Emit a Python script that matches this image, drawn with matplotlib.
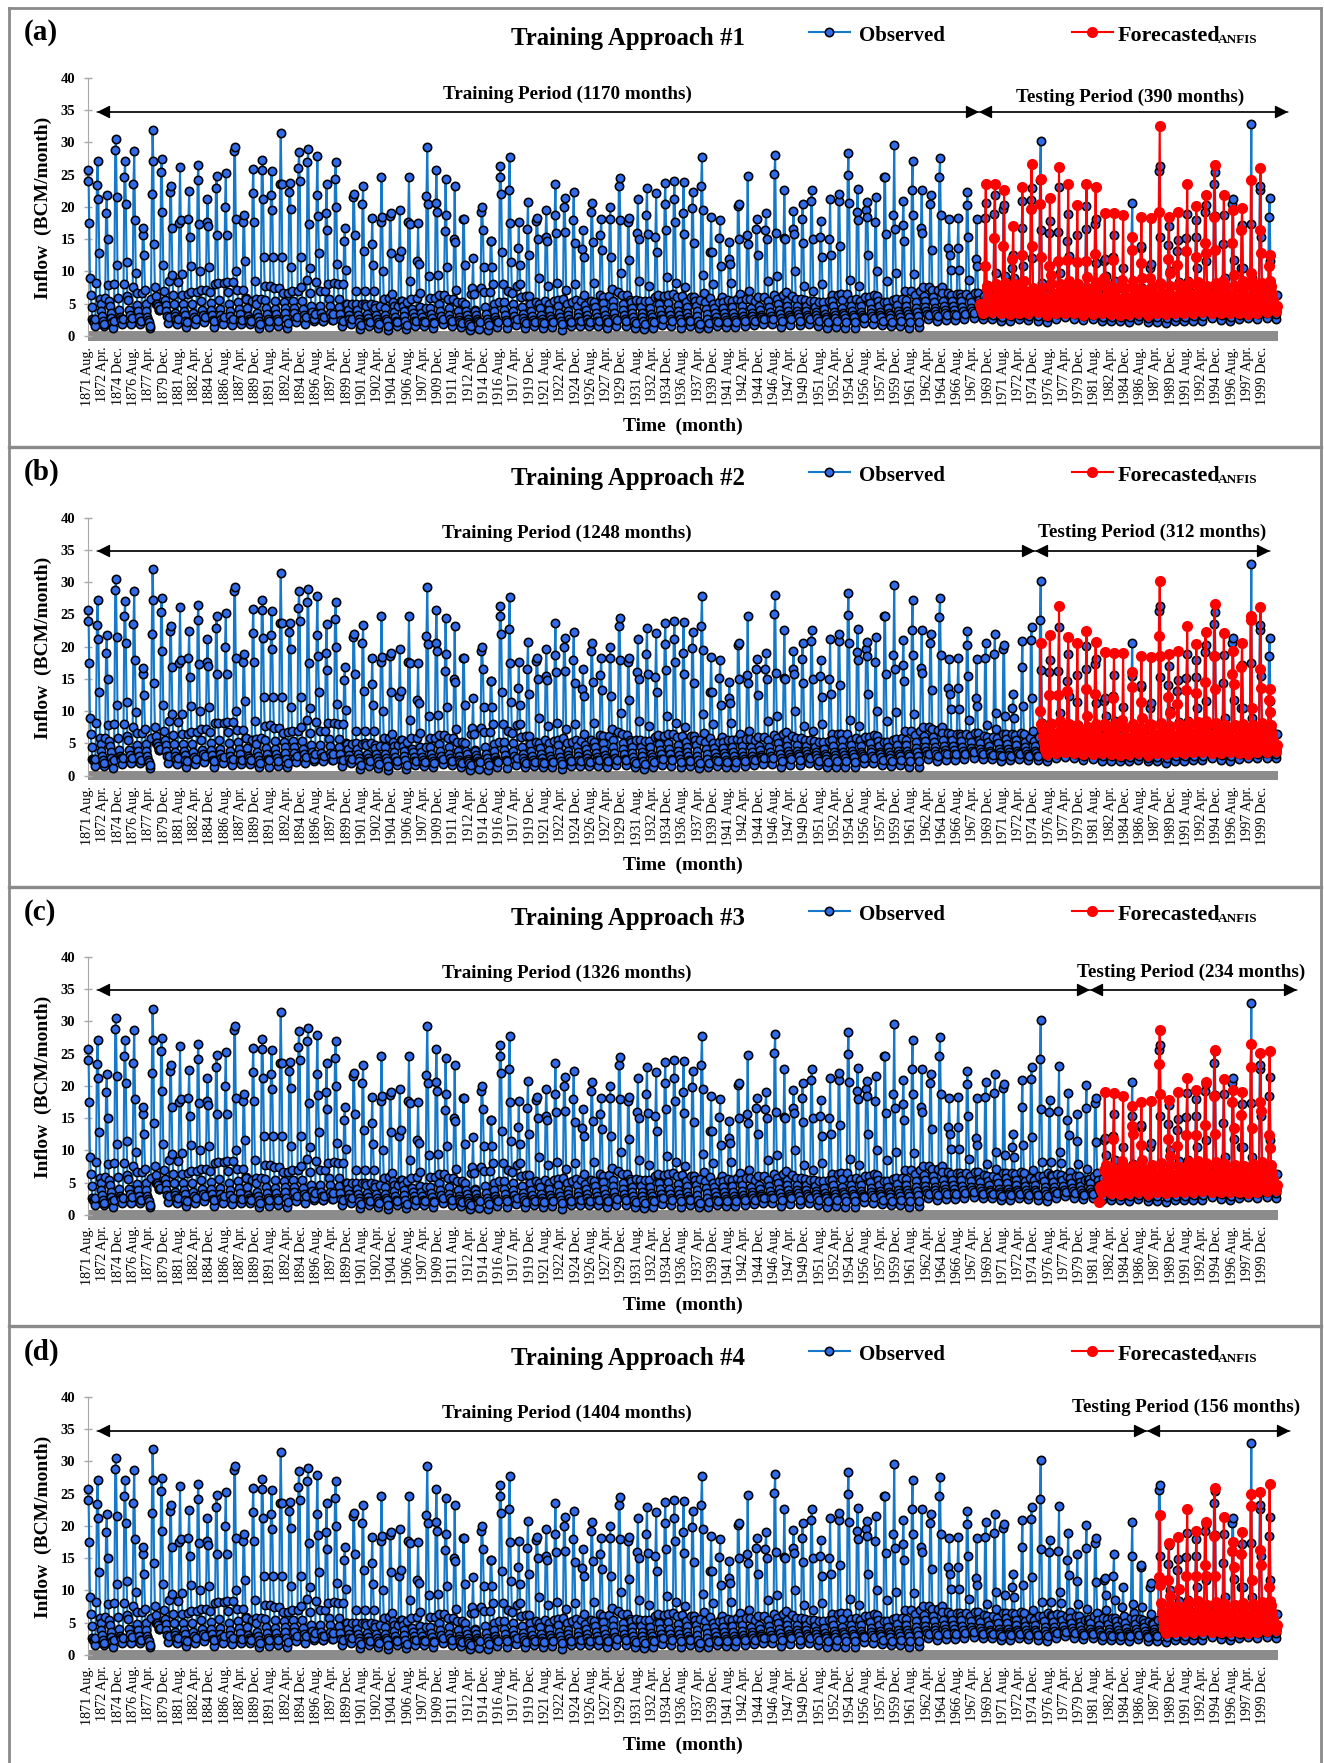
#!/usr/bin/env python3
"""Observed vs forecasted monthly inflow, four ANFIS training approaches"""

import matplotlib
matplotlib.use('Agg')
import matplotlib.pyplot as plt
import numpy as np

SERIF = 'Liberation Serif'
plt.rcParams['font.family'] = SERIF

WIDTH, HEIGHT = 1324, 1763

# Observed inflow (BCM/month), one entry per hydrological year from Aug 1871
obs_aug = [24,23.4,19,28.8,24.7,23.5,15.7,22,25.4,22.4,
           17.5,18.2,24.2,17.7,22.9,20,28.7,17.7,22.2,25.7,
           21.8,23.6,22.3,26,27,21.8,19,24.3,14.8,21.5,
           20.5,14.2,17.6,18.6,12.3,17.6,11.7,21.7,20.6,16.3,
           15,18.2,7.4,19.3,14.7,24.7,22.7,13.6,16.6,17.8,
           15.4,18.7,20,18,13.5,19.3,15.6,18.2,23.2,17.6,
           16,18.8,15.3,20.4,21.2,19,19.8,23.2,13,15.2,
           12,20.2,15.6,16.6,16.5,25.1,15.2,16.6,18.1,20.9,
           15.4,15,20.9,24.9,19.2,19.6,17.7,24.7,18.7,17.2,
           22.6,16.7,20.5,24.6,13.6,13.6,20.3,12,18.3,18.9,
           19.7,10.5,16.8,21.1,24.2,16,16.2,14.7,11.5,16.6,
           17.3,11.6,12.3,7.4,15.4,13.7,10.5,25.6,14.1,13.1,
           15.2,15.3,19.2,23.5,14.3,20.5,10.5,17.4,22.6,18.5]
obs_sep = [25.7,27.2,21.8,30.5,27.1,28.7,16.7,32,27.5,23.2,
           26.2,22.5,26.5,21.2,24.8,25.2,29.3,18.8,25.9,27.3,
           25.6,31.5,23.7,28.6,29,27.9,23.5,27,16.8,22,
           23.3,18.3,24.7,19,19.6,24.7,17.5,29.3,25.7,24.4,
           23.2,18.2,12.1,20,14.7,26.3,27.7,17.6,20.7,18.3,
           19.6,23.6,21.4,22.3,16.5,20.6,18.2,20,24.5,18.3,
           21.2,22.9,22.1,23.7,24,23.8,22.3,27.8,18.4,18,
           14.5,20.5,24.8,18.1,19,28,22.6,19.4,20.5,22.6,
           17.9,21.2,22,28.4,22.8,20.8,21.5,24.7,29.6,21,
           27.2,22.6,21.9,27.6,18.1,18.3,22.4,18.1,20.6,21.9,
           20.3,12.6,20.9,23,30.2,17.9,23.1,18.9,15.6,20.1,
           18.1,12,15.6,10.6,20.6,14,11.2,26.3,17,14.9,
           18.9,18,20.3,25.4,18.7,21.3,17.2,32.8,23.3,21.4]
obs_oct = [17.5,21.2,15,21.5,20.5,18,12.5,27.2,19.3,16.8,
           18,15.3,17.3,17,15.7,15.7,18.2,11.6,17.6,21.3,
           19.6,23.6,19.7,24,17.4,18.6,16.4,20,10.2,15.7,
           13.2,11,18.4,12.9,13.2,17.4,11.2,20.4,19.3,18.8,
           14.5,11,6.5,16.5,10.7,22,17.5,11,12.6,15,
           14.8,16,16.2,14.4,12.3,14.5,13.3,12.3,18,11.8,
           15,15.8,13,16.4,17.7,15.8,14.4,19.5,13,10.9,
           11.2,15,14.3,12.5,15,15.9,15,15.8,14.4,15,
           12.2,12.6,14,20.6,18,18.5,10,15.8,16.6,14.7,
           18.7,15.9,13.3,18.7,12.6,10.3,15.4,10.8,7.9,9.7,
           9.3,9,10.8,12.1,16.4,8.2,9.7,12.4,7.9,7.2,
           11.3,9.3,8.5,6.1,7.9,7.4,6.4,15.3,10,8.4,
           8.5,10.5,11.6,18.6,9,11.8,10.5,9,15.4,11.6]
obs_nov = [9,12.9,7.9,11,11.4,9.8,7.2,14.3,11,9.5,
           9.6,10.8,10,10.7,8.2,8.3,10,5.9,8.5,12.2,
           12.2,12.2,10.7,12.2,10.5,12.9,8.1,11.1,5,7,
           7,7,10,6.5,5.5,8.6,6.6,9.3,9.4,10.7,
           7.2,5,4,10.7,8,13,11.4,8,6.2,9,
           7.7,8.2,7.2,8,6.4,8.2,6.1,7.3,9.7,5.6,
           8.5,7.7,6,9.2,8.2,7.6,6.1,9.5,8,6,
           8.2,6.5,7,6,8.5,9.3,6.8,10,7.7,6.9,
           8,6.4,6.5,8.7,7.7,12.6,6.2,8.5,9.8,6.9,
           9.6,7.6,7.2,7.6,10.3,6.5,8.7,6.6,6,7.2,
           6.5,6.3,6.5,7,8.2,6.2,8,6.6,6,5.5,
           6.5,7,5.8,5,6.5,5.5,5,8,6.5,6,
           7,6.5,7.5,7,6.8,7,6.5,6.2,7.5,7.4]
obs_dec = [6.4,5.8,5.4,5.9,6.2,6.6,4.9,7.6,7,6.3,
           6.4,6.8,7.2,6.8,5.6,6.8,7.1,5.8,5.7,7.7,
           7.4,6.6,6.9,7.6,6.6,6.9,5.7,8,4.9,5,
           5,4.8,5.8,5.3,5.5,5.8,4.5,5.9,6.3,5.8,
           5.3,3.9,3.9,6.8,4.9,8,6.6,6,4.9,5,
           5,5.6,5,5.6,4.8,5.2,5.1,5.5,6.4,5.3,
           5.5,5.4,6.3,6.4,6,5.3,5.5,6.6,5,5.2,
           5.5,5.4,5.7,4.6,5.5,5.8,5.5,5.8,5.6,5.4,
           5.2,5.5,5.6,5.6,5.5,6,5.4,5.3,5.7,5.6,
           6.3,6.2,6,6.6,6.4,6.1,6.1,5.6,5.2,5.8,
           5.7,5.5,5.2,5.4,6,6,6.2,5.7,5.1,5.6,
           5.4,5.6,5.2,4.9,5.6,5,4.8,5.6,5.7,5.4,
           6,5.6,6.1,6.3,5.8,6.2,5.5,5.8,6.1,6]
obs_jan = [4.5,4.9,4.6,4,5.6,4.8,3.8,6.2,5.6,4.9,
           4.9,4.9,5.5,5.1,4.2,5,5.3,4.3,4.9,5.6,
           5.4,5.2,5.4,5.4,4.7,4.7,4.6,5.7,4.1,4.1,
           4.7,4.3,4.4,4.6,4.6,4.2,3.6,4.4,4.9,4.4,
           3.9,3.3,3.2,4.5,3.8,5.2,5,4.5,3.9,4.3,
           4,4.7,3.8,4.6,4.1,4.5,4,4.5,5,4.4,
           4.5,4.4,4.9,5.1,4.8,4.5,4.7,5.2,4.3,4.3,
           4.5,4.6,4.4,4,4.5,5,4.6,4.7,4.6,4.5,
           4.2,4.6,4.4,4.7,4.6,5.1,4.6,4.4,4.8,4.7,
           5.2,5.4,5.2,5.5,5.5,5.4,5.2,5.1,4.6,5,
           4.9,4.7,4.5,4.6,5.2,5.1,5.4,5,4.5,4.9,
           4.6,4.8,4.5,4.2,4.8,4.4,4.1,5,4.9,4.7,
           5.1,4.8,5.3,5.5,5,5.3,4.9,5.1,5.3,5.1]
obs_feb = [2.6,3.9,3.6,3,4,3.9,3,5,4.8,3.6,
           3.9,3.6,4,4,3.3,3.9,4.2,3.1,3.6,4.3,
           4.2,4.4,4.4,4.2,3.7,3.5,3.5,4.5,3.2,3.3,
           3.4,3.3,3.3,3.7,3.8,3.6,2.9,3.4,3.8,3.3,
           3,2.6,2.7,3.4,2.9,4,3.9,3.4,3.1,3.3,
           3.1,3.6,3.2,3.6,3.3,3.5,3.2,3.5,4.1,3.5,
           3.6,3.4,4,4.1,3.8,3.6,3.8,4.2,3.5,3.5,
           3.6,3.7,3.6,3.2,3.7,4.1,3.8,3.8,3.8,3.7,
           3.4,3.7,3.6,3.8,3.7,4.2,3.7,3.6,3.9,3.8,
           4.3,4.5,4.4,4.6,4.6,4.5,4.3,4.2,3.9,4.1,
           4.1,3.9,3.8,3.9,4.3,4.3,4.5,4.2,3.8,4.1,
           3.9,4,3.8,3.5,4,3.7,3.5,4.2,4.1,4,
           4.3,4,4.4,4.6,4.2,4.4,4.1,4.3,4.4,4.3]
obs_mar = [2.4,3.1,2.8,2.7,3.2,3,2.5,5,3.8,3.1,
           3.2,2.9,3.3,3.2,2.7,3.1,3.4,2.7,3,3.4,
           3.4,3.5,3.5,3.3,3,2.9,3,3.4,2.6,2.7,
           2.8,2.7,2.7,2.9,3.1,2.9,2.4,2.8,3.1,2.7,
           2.5,2.2,2.3,2.7,2.5,3.2,3.1,2.8,2.5,2.7,
           2.6,2.9,2.7,3,2.7,2.9,2.7,2.8,3.3,2.9,
           3,2.9,3.3,3.3,3.2,3,3.1,3.4,2.9,3,
           3,3.1,3.1,2.9,3.1,3.4,3.3,3.4,3.3,3.2,
           3,3.2,3.2,3.3,3.3,3.6,3.3,3.2,3.4,3.4,
           3.7,3.9,3.9,4,4,3.9,3.8,3.7,3.5,3.6,
           3.6,3.5,3.4,3.5,3.7,3.7,3.9,3.7,3.4,3.6,
           3.5,3.5,3.4,3.2,3.5,3.3,3.2,3.7,3.6,3.5,
           3.7,3.5,3.8,4,3.7,3.8,3.6,3.7,3.8,3.7]
obs_apr = [2.2,2.4,2.1,2.5,2.4,2.3,2.1,4.6,3.1,2.6,
           2.4,2.3,2.5,2.5,2.2,2.4,2.5,2.3,2.4,2.6,
           2.7,2.6,2.7,2.6,2.3,2.4,2.5,2.5,2.1,2.2,
           2.2,2.2,2.3,2.3,2.4,2.3,2,2.2,2.4,2.2,
           2.1,1.9,1.9,2.1,2.2,2.5,2.5,2.3,2,2.1,
           2.1,2.3,2.2,2.4,2.2,2.4,2.2,2.2,2.6,2.3,
           2.3,2.4,2.6,2.6,2.6,2.5,2.4,2.6,2.4,2.5,
           2.5,2.6,2.6,2.6,2.6,2.8,2.9,3,2.9,2.8,
           2.6,2.8,2.8,2.9,3,3.1,2.9,2.8,3,3,
           3.1,3.4,3.4,3.5,3.4,3.3,3.3,3.2,3.1,3.2,
           3.2,3.1,3,3.1,3.2,3.2,3.4,3.3,3.1,3.2,
           3.1,3.1,3,2.9,3.1,2.9,2.9,3.2,3.1,3.1,
           3.2,3.1,3.3,3.4,3.2,3.3,3.2,3.2,3.3,3.2]
obs_may = [1.5,1.5,1.2,1.8,1.9,1.9,1.2,4,2,1.8,
           1.4,1.8,2.1,1.4,1.9,1.7,1.8,1.8,1.3,1.4,
           1.5,1.3,2.1,1.9,2.6,2.3,2.5,1.5,1.9,1.1,
           1.5,1.2,0.9,1.6,1.1,1.6,1.5,1.3,1.8,1.6,
           1.4,0.9,1.1,0.9,1.4,1.2,1.7,1.3,1.5,1.3,
           1.4,1,1.5,1.5,1.5,1.5,1.3,1.6,1.6,1.3,
           1.1,1.3,1.7,1.5,1.3,1.5,1.2,1.3,1.5,1.4,
           1.4,1.5,1.7,1.8,1.8,1.4,1.7,1.7,1.9,1.6,
           1.3,1.4,1.3,1.3,2,1.9,1.7,1.5,1.6,1.3,
           1.4,2.6,2.3,2.5,2.5,2.6,2.8,2.6,2.6,2.3,
           2.4,2.6,2.5,2.4,2.2,2.7,2.9,2.7,2.5,2.6,
           2.3,2.3,2.3,2.2,2.5,2.2,2.2,2,2.3,2.3,
           2.4,2.4,2.8,2.5,2.3,2.6,2.8,2.7,2.8,2.7]
obs_jun = [2.6,1.9,2.4,2.7,2.8,2.4,1.6,4,3,2.7,
           2.2,2.6,3,2.3,2.9,2.6,2.5,2.4,1.9,2.4,
           2.3,2,3,2.9,3.4,3,3.4,2.4,2.6,1.7,
           2.2,1.8,1.5,2.2,1.7,2.3,2.1,2,2.6,2.3,
           2,1.6,2.1,1.7,2.1,2.2,2.7,2,2.1,2,
           2.1,1.8,2.2,2.3,2.1,2.4,2.2,2.5,2.4,2,
           1.8,2.1,2.6,2.4,2.1,2.3,1.9,2,2.2,2.1,
           2.1,2.3,2.4,2.7,2.7,2.3,2.6,2.4,2.7,2.3,
           2.1,2.3,2.2,2.1,2.8,2.8,2.4,2.2,2.4,2.2,
           2.2,3.3,3.1,3.3,3.3,3.4,3.6,3.3,3.2,3,
           3.1,3.3,3.1,3.1,2.9,3.4,3.6,3.4,3.1,3.3,
           3,3,2.9,2.9,3.1,2.8,2.9,2.8,3,3,
           3.1,3.1,3.5,3.2,3,3.3,3.5,3.4,3.5,3.4]
obs_jul = [8.2,5.9,8,8,7.6,6.6,5.8,4.2,8.5,8.4,
           6.5,6.8,7.2,8.1,8.2,8.3,7.1,5.5,5.8,7.8,
           7.4,6.7,6.9,8.7,8.3,6.9,8.2,8,4.9,4.9,
           5,4.6,5.9,4.7,5.2,5.9,4.4,5.9,6.3,5.8,
           5.2,6.5,7.4,6.8,5.2,7,7.8,6.2,5.2,5.5,
           5.4,5.8,5.3,5.4,5.5,6.3,6.2,6.8,6.3,5.6,
           5.4,6,6.2,6.5,6.2,6.1,5.6,5.9,5.3,5.6,
           5.7,5.7,5.5,6,6.3,6.4,6.2,5.8,5.5,5.2,
           5.4,6.4,6.5,5.8,6,6.3,5.2,5.6,5.8,6.9,
           6.9,7.6,7.1,6.6,6.5,6.5,6.6,6.2,6,6.5,
           6.5,6.6,5.8,6,6.5,6.4,6.1,6,5.5,6,
           5.8,5.7,5.5,5.7,5.6,5.3,5.5,6,5.7,5.6,
           6,6.2,6.4,6.2,6,6.1,6,6.2,6.1,6.4]

# Forecast base flow, last 33 years, common to the four panels
fc_nov = [7.6,7.3,7.8,7.2,7.9,8.6,7.5,7.4,8,7.3,7.6,7.2,7.5,7.4,7.8,7.1,7.4,7.6,7.2,7.8,
          8.1,7.7,7.5,8.2,8.4,7.8,8.2,7.9,7.8,7.6,7.9,8.2,7.8]
fc_dec = [6.4,6.2,6.5,6,6.6,7,6.4,6.1,6.6,6.2,6.4,6,6.3,6.2,6.4,6,6.2,6.3,5.9,6.5,
          6.7,6.4,6.2,6.7,6.9,6.5,6.8,6.6,6.5,6.4,6.6,6.8,6.5]
fc_jan = [5.4,5.5,5.2,5.3,5.6,5.7,5.4,5.2,5.5,5.4,5.6,5.1,5.3,5.2,5.4,5,5.2,5.4,5,5.5,
          5.6,5.4,5.3,5.5,5.7,5.6,5.8,5.4,5.5,5.4,5.6,5.7,5.6]
fc_feb = [4.9,5,4.7,4.8,5,5,4.9,4.7,4.9,4.9,5,4.6,4.7,4.7,4.8,4.5,4.7,4.8,4.5,4.9,
          5,4.9,4.8,4.9,5.1,4.9,5.1,4.9,5,4.8,5,5.1,5.1]
fc_mar = [4.4,4.5,4.2,4.3,4.5,4.4,4.6,4.2,4.3,4.4,4.5,4.1,4.2,4.3,4.2,4,4.2,4.3,4,4.4,
          4.3,4.5,4.3,4.4,4.6,4.3,4.5,4.4,4.5,4.3,4.4,4.6,4.7]
fc_apr = [4,4.1,3.8,3.8,4,3.9,4.1,3.7,3.9,4,4,3.7,3.8,3.9,3.8,3.6,3.8,3.9,3.6,3.9,
          3.8,4,3.9,4,4.1,3.9,4,4,4,3.8,4,4.1,4.2]
fc_may = [3.6,3.7,3.5,3.4,3.6,3.5,3.7,3.3,3.5,3.6,3.5,3.3,3.4,3.5,3.4,3.2,3.4,3.5,3.2,3.5,
          3.4,3.6,3.5,3.6,3.7,3.5,3.5,3.6,3.5,3.4,3.6,3.7,3.8]
fc_jun = [4,4,3.8,3.9,3.9,4,4.1,3.7,3.9,4,3.9,3.7,3.8,3.8,3.9,3.6,3.8,3.9,3.7,3.9,
          4,3.9,3.9,4,4.1,3.9,4.1,3.9,4,3.8,4,4.1,4]
fc_jul = [5,4.8,4.6,5.1,4.7,5,5.2,4.6,4.9,5,4.7,4.8,4.9,4.7,5,4.6,4.8,4.9,4.7,5,
          5.1,4.8,4.9,5,5.2,5,5.3,4.9,5,4.8,5,5.2,4.7]

# Forecast flood months per panel, ending with the last year of the record
fc_a_aug = [10.8,15.2,13.9,12,12.5,19.7,20.5,10.8,11.6,11.8,11.5,11.6,12.7,9,11.8,8.7,
            13.4,11.3,9,19.2,12,11,13.1,12.3,14.4,18.5,8.5,14.4,16.5,9.7,16.5,10.8]
fc_a_sep = [23.5,23.6,22.6,17,23.1,26.7,24.3,21.4,26.2,23.6,20.3,23.6,23.1,19,19,18.7,
            15.3,18.5,18.3,32.6,18.5,19.2,23.6,20.1,21.8,26.5,21.9,19.5,19.9,24.2,26,12.6]
fc_a_oct = [7.8,8,8.2,8,8.5,13.9,12.3,9.5,8,8.5,8,9.2,8.3,8,7.5,7.5,
            8.5,9,7.5,8.2,9.7,8,8,8,12.9,13.4,7.7,9.5,8.5,8.5,12.9,8.5]
fc_b_aug = [10.1,12.5,12.5,13.1,7.9,13.5,12.7,8,12,8.7,13.8,11.5,8,21.6,12.2,11.1,
            13.3,12.8,14.5,18.5,7.6,15.8,16.9,24.2,16.6,11.7]
fc_b_sep = [20.6,21.8,26.3,21.5,20.6,22.4,20.7,19.2,19,19,16,18.6,18.4,30.2,18.8,19.3,
            23.2,20.4,22.3,26.6,22.1,19.4,20.5,24.7,26.2,13.5]
fc_b_oct = [8,8,8.5,8,7.5,9.3,8,7.5,8,7.5,8,9,7.5,18.5,9.7,8,
            8,8,8.5,13.5,7.5,14.2,8,10.5,13.6,9.9]
fc_c_aug = [7,11.8,8.4,13.8,10.8,7,23.4,11.8,10.7,12.4,12.4,13.9,18.5,7.8,17.5,15.5,22.9,17.5,12.4]
fc_c_sep = [19,18.9,18.4,16.9,17.5,17.6,28.7,17.8,19.1,21.2,19.4,20.6,25.6,21.1,19.4,19,26.5,25.1,25.4]
fc_c_oct = [6.8,7,7,12.6,8.5,6.8,18.7,9.2,7.5,7.5,7.5,8,12.5,7,13.5,7.5,13.5,16.2,10.4]
fc_c_first = [2.0]
fc_d_aug = [12.1,11.6,7.5,12.3,12.3,13.9,18.5,7.7,16.1,15.6,23.1,16.3,10.5]
fc_d_sep = [21.7,17.4,18.3,22.7,19.3,20.6,25.9,21.4,17.5,19,25,25.2,26.5]
fc_d_oct = [10.8,9.2,10.2,8,8,12.3,12.3,7,13.6,8,11.6,14,8.4]

panel_letters = ['(a)', '(b)', '(c)', '(d)']
train_months = [1170, 1248, 1326, 1404]
test_months = [390, 312, 234, 156]
y_ticks = [0, 5, 10, 15, 20, 25, 30, 35, 40]
x_tick_labels = [
    '1871 Aug.', '1872 Apr.', '1874 Dec.', '1876 Aug.', '1877 Apr.', '1879 Dec.',
    '1881 Aug.', '1882 Apr.', '1884 Dec.', '1886 Aug.', '1887 Apr.', '1889 Dec.',
    '1891 Aug.', '1892 Apr.', '1894 Dec.', '1896 Aug.', '1897 Apr.', '1899 Dec.',
    '1901 Aug.', '1902 Apr.', '1904 Dec.', '1906 Aug.', '1907 Apr.', '1909 Dec.',
    '1911 Aug.', '1912 Apr.', '1914 Dec.', '1916 Aug.', '1917 Apr.', '1919 Dec.',
    '1921 Aug.', '1922 Apr.', '1924 Dec.', '1926 Aug.', '1927 Apr.', '1929 Dec.',
    '1931 Aug.', '1932 Apr.', '1934 Dec.', '1936 Aug.', '1937 Apr.', '1939 Dec.',
    '1941 Aug.', '1942 Apr.', '1944 Dec.', '1946 Aug.', '1947 Apr.', '1949 Dec.',
    '1951 Aug.', '1952 Apr.', '1954 Dec.', '1956 Aug.', '1957 Apr.', '1959 Dec.',
    '1961 Aug.', '1962 Apr.', '1964 Dec.', '1966 Aug.', '1967 Apr.', '1969 Dec.',
    '1971 Aug.', '1972 Apr.', '1974 Dec.', '1976 Aug.', '1977 Apr.', '1979 Dec.',
    '1981 Aug.', '1982 Apr.', '1984 Dec.', '1986 Aug.', '1987 Apr.', '1989 Dec.',
    '1991 Aug.', '1992 Apr.', '1994 Dec.', '1996 Aug.', '1997 Apr.', '1999 Dec.',
]

# Layout in reference pixels
PANEL_SHIFT = [0, 439.7, 879, 1319]
AXIS_LEFT, AXIS_RIGHT = 87.7, 1278
AXIS_TOP, AXIS_BOTTOM = 78, 340.5
# x of the training/testing boundary and right tip, y of the arrow, testing label centre x, y
ARROWS = [(979, 1288, 112, 1130, 97), (1035, 1270, 551, 1152, 532),
          (1090, 1297, 990, 1191, 972), (1147, 1290, 1431, 1186, 1407)]

BLUE_LINE = '#1578C8'
BLUE_FILL = '#2F6BEA'
RED = '#FF0000'
GREY = '#8C8C8C'


def series_from_columns(columns, offsets, n_years):
    """Turn per-month columns into month positions and values, in time order"""
    first = 130 - n_years
    xs, ys = [], []
    for i in range(n_years):
        for col, off in zip(columns, offsets):
            xs.append((first + i) * 12 + off)
            ys.append(col[i])
    return np.array(xs), np.array(ys)


def forecast_series(aug, sep, oct_, start, first_values=()):
    """Forecast line of one panel from its flood months and the shared base flow"""
    n = len(sep)
    columns = [aug, sep, oct_, fc_nov[-n:], fc_dec[-n:], fc_jan[-n:], fc_feb[-n:],
               fc_mar[-n:], fc_apr[-n:], fc_may[-n:], fc_jun[-n:], fc_jul[-n:]]
    xs, ys = series_from_columns(columns, list(range(12)), n)
    # base flow before the first full flood season belongs to the panel too
    x_lead = (130 - n - 1) * 12 + np.array([6, 7, 8, 9, 10, 11])
    y_lead = [col[-n - 1] for col in (fc_feb, fc_mar, fc_apr, fc_may, fc_jun, fc_jul)]
    xs = np.concatenate([x_lead, xs])
    ys = np.concatenate([y_lead, ys])
    keep = xs >= start
    xs, ys = xs[keep], ys[keep]
    if len(first_values):
        ys[:len(first_values)] = first_values
    return xs, ys


obs_x, obs_y = series_from_columns(
    [obs_aug, obs_sep, obs_oct, obs_nov, obs_dec, obs_jan,
     obs_feb, obs_mar, obs_apr, obs_may, obs_jun, obs_jul],
    list(range(12)), 130)

forecasts = [forecast_series(fc_a_aug, fc_a_sep, fc_a_oct, train_months[0]),
             forecast_series(fc_b_aug, fc_b_sep, fc_b_oct, train_months[1]),
             forecast_series(fc_c_aug, fc_c_sep, fc_c_oct, train_months[2], fc_c_first),
             forecast_series(fc_d_aug, fc_d_sep, fc_d_oct, train_months[3])]

BLUE_STYLE = dict(color=BLUE_LINE, lw=1.5, marker='o', ms=6, mfc=BLUE_FILL, mec='black', mew=1.15)
RED_STYLE = dict(color=RED, lw=1.5, marker='o', ms=8, mfc=RED, mec=RED, mew=0)

fig = plt.figure(figsize=(WIDTH / 100, HEIGHT / 100), dpi=100, facecolor='white')

for i, shift in enumerate(PANEL_SHIFT):
    top = AXIS_TOP + shift
    bottom = AXIS_BOTTOM + shift
    ax = fig.add_axes([AXIS_LEFT / WIDTH, 1 - bottom / HEIGHT,
                       (AXIS_RIGHT - AXIS_LEFT) / WIDTH, (bottom - top) / HEIGHT])
    ax.set_xlim(0, 1560)
    ax.set_ylim(-0.7, 40)
    ax.patch.set_alpha(0)
    ax.axhspan(-0.7, 0.7, color=GREY, lw=0, zorder=1)
    ax.plot(obs_x, obs_y, clip_on=False, zorder=3, **BLUE_STYLE)
    ax.plot(forecasts[i][0], forecasts[i][1], clip_on=False, zorder=4, **RED_STYLE)

    for name in ['top', 'right', 'bottom']:
        ax.spines[name].set_visible(False)
    ax.spines['left'].set_color('#A8A8A8')
    ax.spines['left'].set_bounds(0, 40)
    ax.set_yticks(y_ticks)
    ax.set_yticklabels([str(t) for t in y_ticks], fontsize=10.5, fontweight='bold')
    ax.tick_params(axis='y', direction='inout', length=6, width=1, color='#A8A8A8', pad=6)
    ax.set_xticks(np.arange(len(x_tick_labels)) * 20)
    ax.set_xticklabels(x_tick_labels, rotation=90, fontsize=10.2)
    ax.tick_params(axis='x', length=0, pad=4.5)

# Frames, titles, legends and period arrows sit on one page-sized overlay
page = fig.add_axes([0, 0, 1, 1], zorder=10)
page.set_xlim(0, WIDTH)
page.set_ylim(HEIGHT, 0)
page.axis('off')

page.plot([9, 9], [8, HEIGHT], color='#8A8A8A', lw=2)
page.plot([1321, 1321], [8, HEIGHT], color='#8A8A8A', lw=2)
page.plot([9, 1321], [8, 8], color='#8A8A8A', lw=2)
for y in [447, 887, 1326]:
    page.plot([9, 1321], [y, y], color='#8A8A8A', lw=2.4)

for i, shift in enumerate(PANEL_SHIFT):
    page.text(24, 33 + shift, panel_letters[i], fontsize=21, fontweight='bold', va='center')
    page.text(628, 39 + shift, f'Training Approach #{i + 1}', fontsize=17.9,
              fontweight='bold', ha='center', va='center')
    page.text(43, 208 + shift, 'Inflow  (BCM/month)', fontsize=14, fontweight='bold',
              rotation=90, ha='center', va='center')
    page.text(683, 426 + shift, 'Time  (month)', fontsize=14, fontweight='bold',
              ha='center', va='center')

    # legend
    page.plot([809, 850], [32 + shift, 32 + shift], color=BLUE_LINE, lw=1.5)
    page.plot([829], [32 + shift], **BLUE_STYLE)
    page.text(859, 36 + shift, 'Observed', fontsize=15, fontweight='bold', va='center')
    page.plot([1072, 1113], [32 + shift, 32 + shift], color=RED, lw=1.5)
    page.plot([1092], [32 + shift], **RED_STYLE)
    page.text(1118, 36 + shift, 'Forecasted', fontsize=15.8, fontweight='bold', va='center')
    page.text(1218, 40 + shift, 'ANFIS', fontsize=9.5, fontweight='bold', va='center')

    # training and testing periods
    mid, tip, y_arrow, test_x, test_y = ARROWS[i]
    head = dict(arrowstyle='-|>,head_length=0.8,head_width=0.4', color='black', lw=0.9,
                mutation_scale=10, shrinkA=0, shrinkB=0)
    page.annotate('', xy=(97, y_arrow), xytext=(mid, y_arrow), arrowprops=head)
    page.annotate('', xy=(mid, y_arrow), xytext=(97, y_arrow), arrowprops=head)
    page.annotate('', xy=(mid, y_arrow), xytext=(tip, y_arrow), arrowprops=head)
    page.annotate('', xy=(tip, y_arrow), xytext=(mid, y_arrow), arrowprops=head)
    page.text(567, 94 + shift, f'Training Period ({train_months[i]} months)', fontsize=13.7,
              fontweight='bold', ha='center', va='center')
    page.text(test_x, test_y, f'Testing Period ({test_months[i]} months)', fontsize=13.7,
              fontweight='bold', ha='center', va='center')

fig.savefig('out.png', dpi=100, facecolor='white')
